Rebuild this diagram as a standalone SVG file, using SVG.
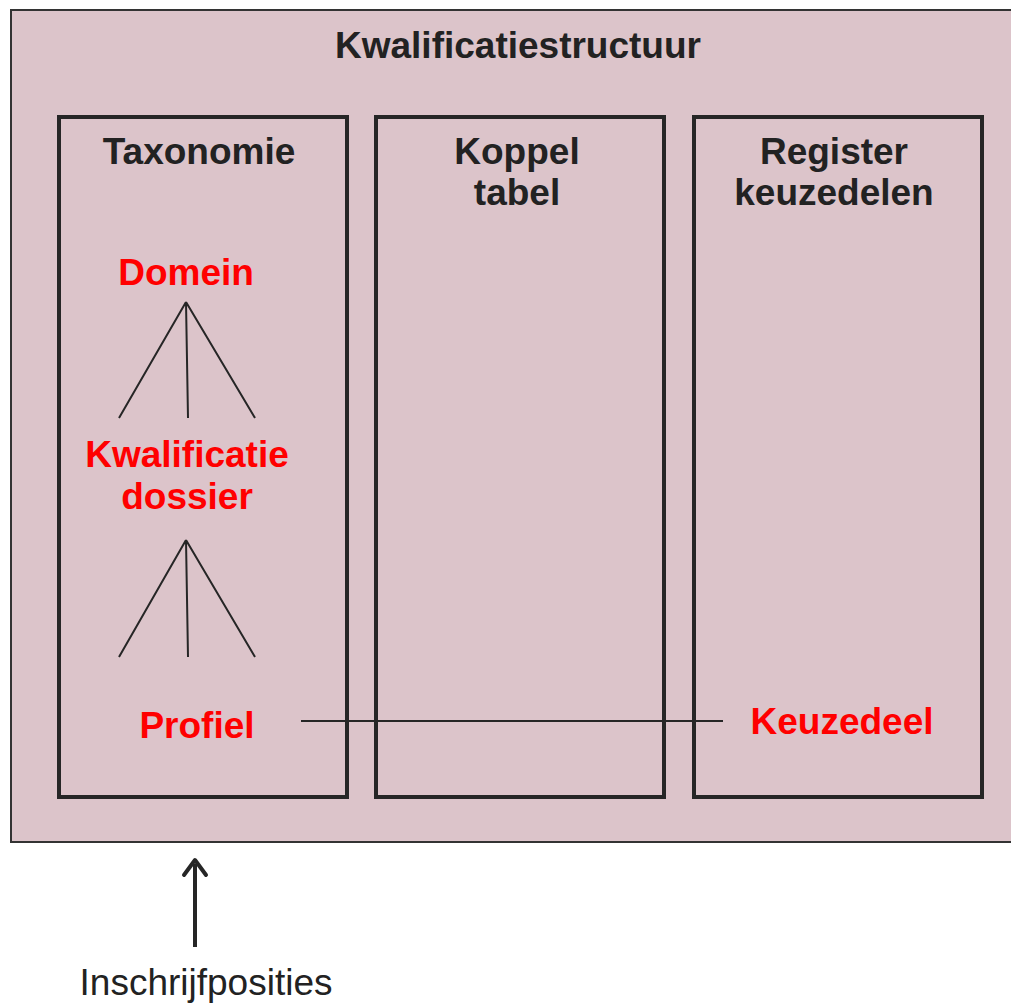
<svg xmlns="http://www.w3.org/2000/svg" width="1011" height="1004" viewBox="0 0 1011 1004">
<style>
.box{fill:none;stroke:#262626;stroke-width:4}
.hd{font-family:"Liberation Sans",Arial,sans-serif;font-weight:bold;font-size:37px;fill:#222;text-anchor:middle}
.rd{font-family:"Liberation Sans",Arial,sans-serif;font-weight:bold;font-size:37px;fill:#ff0000;text-anchor:middle}
.ln{stroke:#262626;stroke-width:2;fill:none}
</style>
<g id="outer">
<rect x="11" y="10" width="1010" height="832" fill="#dcc4ca" stroke="#333" stroke-width="2"/>
<text class="hd" x="518" y="58">Kwalificatiestructuur</text>
</g>
<g id="taxonomie">
<rect class="box" x="59" y="117" width="288" height="680"/>
<text class="hd" x="199" y="164">Taxonomie</text>
</g>
<g id="koppel">
<rect class="box" x="376" y="117" width="288" height="680"/>
<text class="hd" x="517" y="164">Koppel</text>
<text class="hd" x="517" y="205">tabel</text>
</g>
<g id="register">
<rect class="box" x="694" y="117" width="288" height="680"/>
<text class="hd" x="834" y="164">Register</text>
<text class="hd" x="834" y="205">keuzedelen</text>
</g>
<g id="domein"><text class="rd" x="186" y="285">Domein</text></g>
<g id="kwalificatiedossier"><text class="rd" x="187" y="467">Kwalificatie</text><text class="rd" x="187" y="509">dossier</text></g>
<g id="profiel"><text class="rd" x="197" y="738">Profiel</text></g>
<g id="keuzedeel"><text class="rd" x="842" y="734">Keuzedeel</text></g>
<g id="inschrijf"><text x="206" y="995" font-family="'Liberation Sans',Arial,sans-serif" font-size="37" fill="#222" text-anchor="middle">Inschrijfposities</text></g>
<g id="connectors">
<path class="ln" d="M186,302 L119,418 M186,302 L188,418 M186,302 L255,418"/>
<path class="ln" d="M186,540 L119,657 M186,540 L188,657 M186,540 L255,657"/>
<path class="ln" d="M301,721 L723,721"/>
<path d="M195,947 L195,864" stroke="#262626" stroke-width="4" fill="none"/>
<path d="M184,875 L195,860 L206,875" stroke="#262626" stroke-width="4" fill="none" stroke-linecap="round" stroke-linejoin="round"/>
</g>
</svg>
